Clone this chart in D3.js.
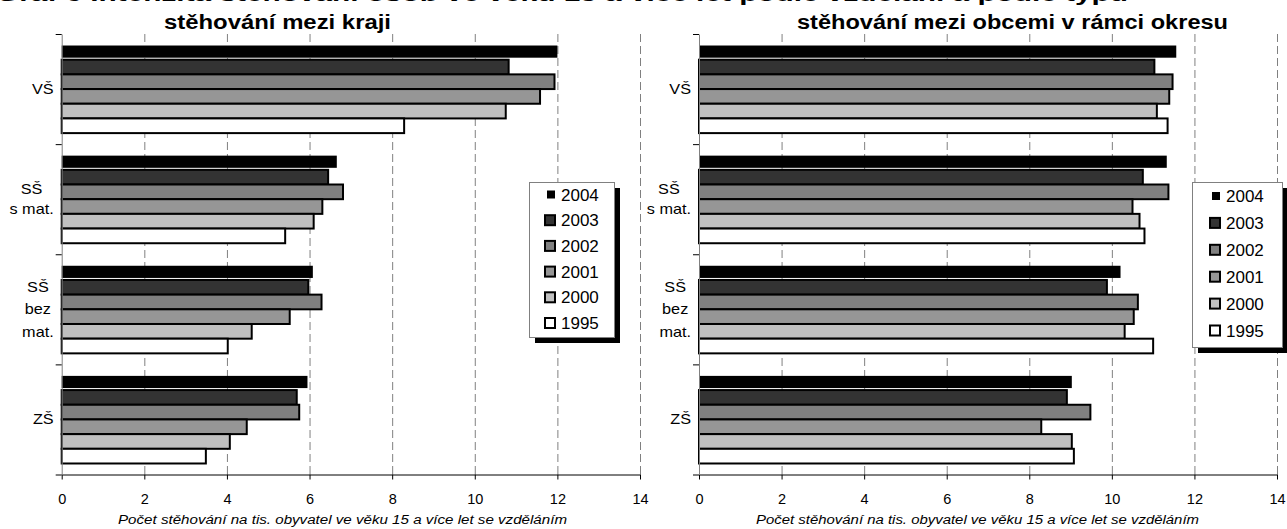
<!DOCTYPE html>
<html>
<head>
<meta charset="utf-8">
<script src="https://cdn.jsdelivr.net/npm/d3@7"></script>
<style>
  body { margin: 0; background: #fff; }
  svg { display: block; font-family: "Liberation Sans", Arial, sans-serif; }
</style>
</head>
<body>
<svg id="chart" width="1287" height="529"></svg>
<script>
'use strict';

// categories top to bottom, each label split into its wrapped lines
var categories = ["VŠ", "SŠ s mat.", "SŠ bez mat.", "ZŠ"];
var categoryLines = [["VŠ"], ["SŠ", "s mat."], ["SŠ", "bez", "mat."], ["ZŠ"]];
var years = ["2004", "2003", "2002", "2001", "2000", "1995"];
var yearColors = ["#000000", "#333333", "#808080", "#969696", "#c0c0c0", "#ffffff"];
var xTicks = [0, 2, 4, 6, 8, 10, 12, 14];

// rows = categories, columns = years (same order as above)
var betweenRegions = [
    [12.00, 10.82, 11.93, 11.58, 10.75, 8.29],
    [6.66, 6.45, 6.81, 6.31, 6.10, 5.41],
    [6.08, 5.97, 6.29, 5.52, 4.60, 4.02],
    [5.95, 5.69, 5.75, 4.48, 4.07, 3.49]
];
var withinDistrict = [
    [11.56, 11.03, 11.47, 11.39, 11.09, 11.35],
    [11.33, 10.75, 11.37, 10.50, 10.67, 10.79],
    [10.21, 9.88, 10.63, 10.53, 10.31, 11.00],
    [9.03, 8.91, 9.48, 8.29, 9.03, 9.08]
];

var titleTop = "Graf 6 Intenzita stěhování osob ve věku 15 a více let podle vzdělání a podle typu";
var axisTitle = "Počet stěhování na tis. obyvatel ve věku 15 a více let se vzděláním";

var svg = d3.select("#chart");

// heading line above both panels, cut by the top edge as in the source page
svg.append("text")
    .attr("x", -4).attr("y", 1)
    .attr("textLength", 1132).attr("lengthAdjust", "spacingAndGlyphs")
    .style("font-size", "20px").style("font-weight", "bold")
    .text(titleTop);

function panel(opt, values) {
    var g = svg.append("g"),
        top = 34, bottom = 474.5;

    var x = d3.scaleLinear().domain([0, 14]).range([opt.x0, opt.x1]);
    var y = d3.scaleBand().domain(categories).range([top, bottom])
            .paddingInner(0.2).paddingOuter(0.1);
    var yy = d3.scaleBand().domain(years).range([0, y.bandwidth()]);
    var yEdge = d3.scaleLinear().domain([0, categories.length]).range([top, bottom]);

    // dashed gridlines
    g.append("g").selectAll("line")
        .data(xTicks.slice(1))
        .enter().append("line")
            .attr("x1", function(d){return x(d) + 0.5;})
            .attr("x2", function(d){return x(d) + 0.5;})
            .attr("y1", top).attr("y2", bottom)
            .attr("stroke", "#808080")
            .attr("stroke-width", 1)
            .attr("stroke-dasharray", "8,4");

    // bars
    var groups = g.append("g").selectAll("g")
        .data(values)
        .enter().append("g")
            .attr("transform", function(d, i){return "translate(0," + y(categories[i]) + ")";});

    groups.selectAll("rect")
        .data(function(d){return d;})
        .enter().append("rect")
            .attr("x", x(0))
            .attr("y", function(d, i){return yy(years[i]) + (i === 0 ? 0.5 : 0);})
            .attr("width", function(d){return x(d) - x(0);})
            .attr("height", function(d, i){return yy.bandwidth() - (i === 0 ? 2.5 : 0);})
            .attr("fill", function(d, i){return yearColors[i];})
            .attr("stroke", function(d, i){return i === 0 ? "none" : "#000";})
            .attr("stroke-width", 2);

    // x axis: major and minor ticks
    var xa = g.append("g").attr("transform", "translate(0," + bottom + ")");
    xa.call(d3.axisBottom(x).tickValues(d3.range(0, 14.01, 0.4))
            .tickSize(3).tickSizeOuter(0).tickFormat(""));
    xa.call(d3.axisBottom(x).tickValues(xTicks).tickSize(5).tickSizeOuter(0));
    xa.selectAll("path, line").attr("stroke", "#000");
    xa.selectAll("text")
        .attr("dy", null).attr("y", 29)
        .style("font-size", "14.5px").style("font-family", "'Liberation Sans', Arial, sans-serif")
        .attr("fill", "#000");

    // y axis with ticks at category boundaries
    var ya = g.append("g").attr("transform", "translate(" + x(0) + ",0)");
    ya.call(d3.axisLeft(yEdge).tickValues(d3.range(0, categories.length + 1))
            .tickSize(6).tickSizeOuter(0).tickFormat(""));
    ya.select("path").attr("stroke", "#808080");
    ya.selectAll("line").attr("stroke", "#000");

    // category labels, lines centred inside a right-aligned block (slightly widened)
    categoryLines.forEach(function(lines, i) {
        var t = g.append("text")
            .style("font-size", "14.5px")
            .attr("text-anchor", "middle");
        var cy = y(categories[i]) + y.bandwidth() / 2,
            lh = lines.length === 3 ? 22.5 : 19.5,
            y0 = cy - (lines.length - 1) * lh / 2 + 5;
        lines.forEach(function(l, j) {
            t.append("tspan").attr("y", y0 + j * lh).text(l);
        });
        var w = 0;
        t.selectAll("tspan").each(function() {
            var tw = this.getComputedTextLength() * 1.12;
            d3.select(this).attr("textLength", tw).attr("lengthAdjust", "spacingAndGlyphs");
            w = Math.max(w, tw);
        });
        t.selectAll("tspan").attr("x", x(0) - 8 - w / 2);
    });

    // titles
    g.append("text")
        .attr("x", opt.titleX).attr("y", 28.5)
        .attr("textLength", opt.titleW).attr("lengthAdjust", "spacingAndGlyphs")
        .style("font-size", "20px").style("font-weight", "bold")
        .text(opt.title);

    g.append("text")
        .attr("x", opt.axisX).attr("y", 524)
        .attr("textLength", opt.axisW).attr("lengthAdjust", "spacingAndGlyphs")
        .style("font-size", "12.5px").style("font-style", "italic")
        .text(axisTitle);

    // legend with drop shadow
    var L = opt.legend,
        lg = g.append("g").attr("transform", "translate(" + L.x + "," + L.y + ")");
    lg.append("rect")
        .attr("x", 6).attr("y", 6).attr("width", L.w).attr("height", L.h)
        .attr("fill", "#000");
    lg.append("rect")
        .attr("x", 0.5).attr("y", 0.5).attr("width", L.w).attr("height", L.h)
        .attr("fill", "#fff").attr("stroke", "#808080").attr("stroke-width", 1);

    var rows = lg.selectAll("g.row")
        .data(years)
        .enter().append("g")
            .attr("class", "row")
            .attr("transform", function(d, i){return "translate(0," + (L.first + i * L.step) + ")";});
    rows.append("rect")
        .attr("x", function(d, i){return i === 0 ? L.sq + 2 : L.sq;})
        .attr("y", function(d, i){return i === 0 ? -4 : -5;})
        .attr("width", function(d, i){return i === 0 ? 8 : 10;})
        .attr("height", function(d, i){return i === 0 ? 8 : 10;})
        .attr("fill", function(d, i){return yearColors[i];})
        .attr("stroke", function(d, i){return i === 0 ? "none" : "#000";})
        .attr("stroke-width", 2);
    rows.append("text")
        .attr("x", L.sq + 16).attr("y", 6)
        .style("font-size", "17px")
        .text(function(d){return d;});
}

panel({
    x0: 61.7, x1: 640,
    title: "stěhování mezi kraji", titleX: 164, titleW: 227,
    axisX: 118, axisW: 449,
    legend: {x: 529, y: 182, w: 85, h: 155, first: 12.5, step: 25.7, sq: 16}
}, betweenRegions);

panel({
    x0: 699, x1: 1277,
    title: "stěhování mezi obcemi v rámci okresu", titleX: 797, titleW: 431,
    axisX: 756, axisW: 443,
    legend: {x: 1192, y: 182, w: 90, h: 165, first: 14, step: 26.9, sq: 18}
}, withinDistrict);
</script>
</body>
</html>
